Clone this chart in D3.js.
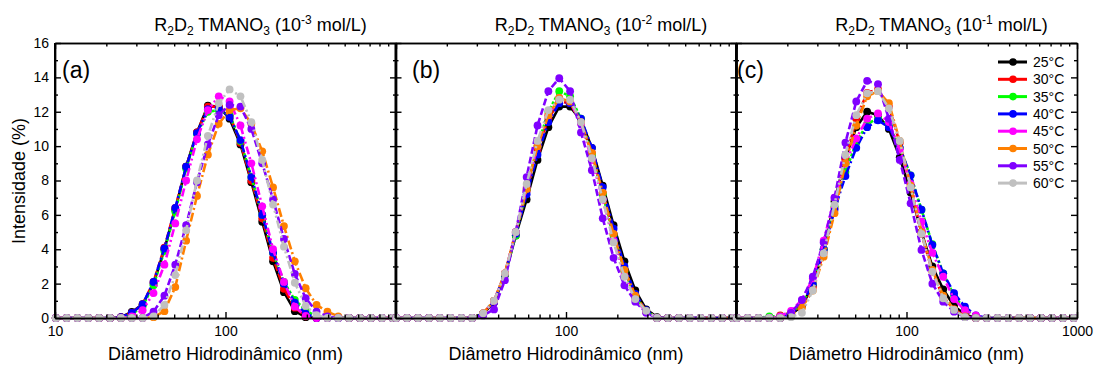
<!DOCTYPE html>
<html><head><meta charset="utf-8">
<script src="https://cdn.jsdelivr.net/npm/d3@7"></script>
<style>
body{margin:0;background:#fff;}
text{font-family:"Liberation Sans",Arial,sans-serif;}
</style></head>
<body><svg id="c" width="1094" height="365"></svg>
<script>
// Malvern size bins (nm) within 10–1000
const sizes = [10.1,11.7,13.54,15.69,18.17,21.04,24.36,28.21,32.67,37.84,43.82,50.75,58.77,68.06,78.82,91.28,105.7,122.4,141.8,164.2,190.1,220.2,255.0,295.3,342.0,396.1,458.7,531.2,615.1,712.4,825.0,955.4];
const temps = ["25°C","30°C","35°C","40°C","45°C","50°C","55°C","60°C"];
const colors = ["#000000","#ff0000","#00ff00","#0000ff","#ff00ff","#ff8000","#8000ff","#c0c0c0"];
const dashes = ["none","7,3","3,2","8,3,2,3","8,3,2,3,2,3","9,3,2,3","7,3","8,3,2,3,2,3"];
const panelTitles = ["10","10","10"];
const panelExps = ["-3","-2","-1"];
const panelLetters = ["(a)","(b)","(c)"];
const yTicks = [0,2,4,6,8,10,12,14,16];
const xLabelsPerPanel = [[10,100],[100],[100,1000]];

const panelA = [
 [0,0,0,0,0,0,0.05,0.35,0.8,2.0,4.0,6.3,8.8,10.8,12.35,12.3,11.6,10.1,7.9,5.6,3.3,1.5,0.4,0.05,0,0,0,0,0,0,0,0],
 [0,0,0,0,0,0,0.05,0.3,0.8,2.1,4.1,6.4,8.8,10.8,12.3,12.3,11.8,10.2,8.0,5.8,3.5,1.7,0.6,0.1,0,0,0,0,0,0,0,0],
 [0,0,0,0,0,0,0,0.2,0.7,1.9,3.9,6.2,8.7,10.7,12.0,12.1,11.8,10.3,8.2,6.0,3.8,2.1,1.05,0.47,0.05,0,0,0,0,0,0,0],
 [0,0,0,0,0,0,0.05,0.3,0.8,2.1,4.05,6.4,8.8,10.75,12.15,12.2,11.7,10.35,8.2,6.0,3.8,2.0,0.9,0.25,0,0,0,0,0,0,0,0],
 [0,0,0,0,0,0,0,0.1,0.45,1.45,3.1,5.5,8.0,10.4,12.1,12.9,12.6,11.2,9.0,6.5,4.0,2.1,0.66,0.12,0,0,0,0,0,0,0,0],
 [0,0,0,0,0,0,0,0,0,0.05,0.4,1.8,4.5,7.1,9.5,11.3,12.1,12.2,11.3,9.7,7.6,5.35,3.3,1.73,0.76,0.37,0.1,0,0,0,0,0],
 [0,0,0,0,0,0,0,0,0,0.37,1.3,3.1,5.4,7.9,10.1,11.8,12.4,12.3,11.0,9.0,6.9,4.6,2.56,1.15,0.37,0.1,0,0,0,0,0,0],
 [0,0,0,0,0,0,0,0,0,0.1,0.76,2.5,5.1,8.0,10.6,12.5,13.3,12.9,11.4,9.2,6.6,4.15,2.05,0.7,0.17,0,0,0,0,0,0,0]
];
const panelB = [
 [0,0,0,0,0,0,0,0,0.25,0.9,2.5,4.8,6.9,9.2,11.1,12.3,12.3,11.5,9.9,7.7,5.4,3.3,1.6,0.5,0.05,0,0,0,0,0,0,0],
 [0,0,0,0,0,0,0,0,0.27,1.0,2.6,5.0,7.4,9.8,11.6,12.6,12.5,11.4,9.6,7.3,4.9,2.8,1.3,0.4,0,0,0,0,0,0,0,0],
 [0,0,0,0,0,0,0,0,0.27,1.0,2.5,4.8,7.5,10.0,12.0,13.2,12.9,11.6,9.5,7.2,4.8,2.7,1.2,0.4,0,0,0,0,0,0,0,0],
 [0,0,0,0,0,0,0,0,0.25,0.95,2.55,4.9,7.2,9.5,11.4,12.5,12.5,11.6,9.9,7.6,5.2,3.0,1.4,0.45,0,0,0,0,0,0,0,0],
 [0,0,0,0,0,0,0,0,0.27,1.0,2.6,5.0,7.6,10.0,11.8,12.8,12.6,11.3,9.2,6.9,4.5,2.5,1.1,0.35,0,0,0,0,0,0,0,0],
 [0,0,0,0,0,0,0,0,0.27,1.0,2.6,5.0,7.5,10.0,11.8,12.8,12.6,11.4,9.6,7.3,4.9,2.8,1.3,0.4,0,0,0,0,0,0,0,0],
 [0,0,0,0,0,0,0,0,0.15,0.5,2.2,5.0,8.2,11.2,13.2,13.95,13.2,10.8,8.6,5.8,3.5,1.9,0.95,0.3,0,0,0,0,0,0,0,0],
 [0,0,0,0,0,0,0,0,0.27,1.0,2.6,5.0,7.8,10.3,12.1,12.7,12.7,11.4,9.3,6.9,4.4,2.4,1.1,0.42,0,0,0,0,0,0,0,0]
];
const panelC = [
 [0,0,0,0,0,0.2,0.7,1.9,4.0,6.8,9.3,11.1,12.0,11.8,11.0,9.35,7.3,5.0,3.0,1.67,0.7,0.2,0,0,0,0,0,0,0,0,0,0],
 [0,0,0,0,0.15,0.3,0.8,1.8,3.8,6.4,9.2,11.6,13.1,13.3,12.3,10.2,7.6,4.9,2.7,1.2,0.5,0.1,0,0,0,0,0,0,0,0,0,0],
 [0,0,0,0.1,0.1,0.3,0.85,2.0,4.0,6.5,8.5,10.2,11.3,11.6,11.2,9.9,8.3,6.3,4.3,2.6,1.3,0.5,0.1,0,0,0,0,0,0,0,0,0],
 [0,0,0,0,0.05,0.25,0.8,2.0,4.0,6.3,8.26,9.9,11.1,11.5,11.1,9.9,8.3,6.3,4.25,2.6,1.44,0.66,0.15,0,0,0,0,0,0,0,0,0],
 [0,0,0,0,0.1,0.42,1.05,2.3,4.5,7.0,9.0,10.45,11.6,11.9,11.4,9.8,7.8,5.6,3.8,2.4,1.1,0.45,0.15,0,0,0,0,0,0,0,0,0],
 [0,0,0,0,0,0.2,0.6,1.6,3.57,6.1,9.0,11.2,12.9,13.2,12.5,10.3,7.7,5.0,2.8,1.3,0.5,0.1,0,0,0,0,0,0,0,0,0,0],
 [0,0,0,0,0,0.3,1.05,2.4,4.4,7.0,10.2,12.6,13.8,13.6,11.6,9.2,6.67,3.96,2.0,0.95,0.37,0.05,0,0,0,0,0,0,0,0,0,0],
 [0,0,0,0,0,0.05,0.3,1.6,3.76,6.6,9.5,11.8,13.07,13.2,12.2,10.3,7.6,4.9,2.7,1.15,0.47,0.05,0,0,0,0,0,0,0,0,0,0]
];
const panels = [panelA, panelB, panelC];

const svg = d3.select("#c");
const topY = 43, bottomY = 318, pw = 341;
const lefts = [55, 395.5, 736];
const y = d3.scaleLinear().domain([0,16]).range([bottomY, topY]);
const majorX = [10,100,1000];
const minorX = [20,30,40,50,60,70,80,90,200,300,400,500,600,700,800,900];
const minorY = [1,3,5,7,9,11,13,15];

panels.forEach((data, p) => {
  const L = lefts[p];
  const x = d3.scaleLog().domain([10,1000]).range([L, L+pw]);
  const g = svg.append("g");
  const line = d3.line().x((d,i)=>x(sizes[i])).y(d=>y(d));
  data.forEach((vals, s) => {
    g.append("path").datum(vals).attr("d", line)
      .attr("fill","none").attr("stroke",colors[s]).attr("stroke-width",2.6)
      .attr("stroke-dasharray",dashes[s]).attr("stroke-linejoin","round");
    g.selectAll(null).data(vals).enter().append("circle")
      .attr("cx",(d,i)=>x(sizes[i])).attr("cy",d=>y(d)).attr("r",3.9)
      .attr("fill",colors[s]);
  });
  // axes
  const lbls = xLabelsPerPanel[p];
  const ax = (gen, tr) => { const a = svg.append("g").attr("transform",tr).call(gen);
    a.selectAll("path,line").attr("stroke","#000").attr("stroke-width",1.4);
    a.selectAll("text").attr("font-size",14).attr("fill","#000").attr("font-family","Liberation Sans, Arial, sans-serif");
    return a; };
  ax(d3.axisBottom(x).tickValues(majorX).tickSizeInner(-6).tickSizeOuter(0).tickPadding(8)
      .tickFormat(d => lbls.includes(d) ? String(d) : ""), `translate(0,${bottomY})`);
  ax(d3.axisBottom(x).tickValues(minorX).tickSizeInner(-3.5).tickSizeOuter(0).tickFormat(""), `translate(0,${bottomY})`);
  ax(d3.axisTop(x).tickValues(majorX).tickSizeInner(-6).tickSizeOuter(0).tickFormat(""), `translate(0,${topY})`);
  ax(d3.axisTop(x).tickValues(minorX).tickSizeInner(-3.5).tickSizeOuter(0).tickFormat(""), `translate(0,${topY})`);
  ax(d3.axisLeft(y).tickValues(yTicks).tickSizeInner(-6).tickSizeOuter(0).tickPadding(6)
      .tickFormat(d => p===0 ? String(d) : ""), `translate(${L},0)`);
  ax(d3.axisLeft(y).tickValues(minorY).tickSizeInner(-3).tickSizeOuter(0).tickFormat(""), `translate(${L},0)`);
  ax(d3.axisRight(y).tickValues(yTicks).tickSizeInner(-6).tickSizeOuter(0).tickFormat(""), `translate(${L+pw},0)`);
  ax(d3.axisRight(y).tickValues(minorY).tickSizeInner(-3).tickSizeOuter(0).tickFormat(""), `translate(${L+pw},0)`);
  svg.append("line").attr("x1",L).attr("x2",L).attr("y1",topY).attr("y2",bottomY).attr("stroke","#000").attr("stroke-width",2);

  // title
  const t = svg.append("text").attr("x", L + pw/2 + 35).attr("y", 31).attr("text-anchor","middle")
    .attr("font-size",18).attr("fill","#000");
  t.append("tspan").text("R");
  t.append("tspan").attr("font-size",12).attr("dy",4).text("2");
  t.append("tspan").attr("dy",-4).text("D");
  t.append("tspan").attr("font-size",12).attr("dy",4).text("2");
  t.append("tspan").attr("dy",-4).text(" TMANO");
  t.append("tspan").attr("font-size",12).attr("dy",4).text("3");
  t.append("tspan").attr("dy",-4).text(" (" + panelTitles[p]);
  t.append("tspan").attr("font-size",12).attr("dy",-7).text(panelExps[p]);
  t.append("tspan").attr("dy",7).text(" mol/L)");
  // panel letter
  svg.append("text").attr("x", [62,412,737][p]).attr("y",78).attr("font-size",23).attr("fill","#000").text(panelLetters[p]);
  // x label
  svg.append("text").attr("x", L + pw/2).attr("y", 360).attr("text-anchor","middle")
    .attr("font-size",18).attr("fill","#000").text("Diâmetro Hidrodinâmico (nm)");
});

// y label
svg.append("text").attr("transform","translate(25,181) rotate(-90)").attr("text-anchor","middle")
  .attr("font-size",18).attr("fill","#000").text("Intensidade (%)");

// legend
const leg = svg.append("g");
temps.forEach((tname,i) => {
  const yy = 62 + i*17.3;
  leg.append("line").attr("x1",998).attr("x2",1027).attr("y1",yy).attr("y2",yy)
    .attr("stroke",colors[i]).attr("stroke-width",3);
  leg.append("circle").attr("cx",1013).attr("cy",yy).attr("r",3.8).attr("fill",colors[i]);
  leg.append("text").attr("x",1033).attr("y",yy+5).attr("font-size",14).attr("fill","#000").text(tname);
});
</script></body></html>
